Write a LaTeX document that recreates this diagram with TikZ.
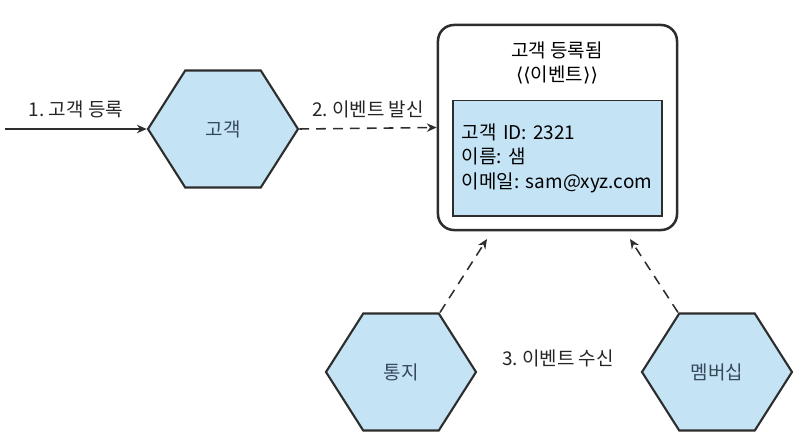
\documentclass[tikz,border=0pt]{standalone}
\usepackage{fontspec}
\setmainfont{Noto Sans CJK KR}
\newfontfamily\symfont{DejaVu Sans}
\usepackage{xcolor}
\usetikzlibrary{positioning,arrows.meta,shapes.symbols,calc}
\definecolor{hexblue}{RGB}{196,228,246}
\definecolor{edgegray}{RGB}{45,45,45}
\definecolor{hextext}{RGB}{55,72,88}
\frenchspacing

\begin{document}
\begin{tikzpicture}[
  x=0.025cm, y=-0.025cm,
  font=\fontsize{13.5}{17.5}\selectfont,
  hexa/.style={signal, signal to=west and east, signal pointer angle=115, draw=edgegray, line width=1.5pt, fill=hexblue, text=hextext, minimum width=3.75cm, minimum height=2.925cm, inner sep=0pt},
  evtbox/.style={draw=edgegray, line width=1.8pt, rounded corners=0.4cm, fill=white, minimum width=5.975cm, minimum height=5.125cm},
  fieldbox/.style={draw=edgegray, line width=1.4pt, fill=hexblue, minimum width=5.225cm, minimum height=2.875cm, align=left, text width=4.78cm, inner sep=0pt},
  lbl/.style={text=black!85, inner sep=1pt},
  arr/.style={-{Stealth[length=7pt,width=6pt]}, line width=1.1pt, edgegray},
  darr/.style={arr, dash pattern=on 7pt off 5pt},
]
\useasboundingbox (0,0) rectangle (806,442);
% publisher
\node[hexa] (cust) at (223,129) {고객};
\coordinate (start) at (5,129);
\draw[arr] (start) -- node[lbl, above=6pt]{1. 고객 등록} (cust.west);
% event
\node[evtbox] (evt) at (557.5,127.5) {};
\node[align=center, font=\fontsize{13.5}{16.5}\selectfont] (ttl) at (557,63) {고객 등록됨\\{\symfont ⟨⟨}이벤트{\symfont ⟩⟩}};
\node[fieldbox] (fld) at (557.5,158) {고객 ID: 2321\\이름: 샘\\이메일: sam@xyz.com};
\draw[darr] (cust.east) -- node[lbl, above=6pt]{2. 이벤트 발신} (evt.west);
% subscribers
\node[hexa] (ntf) at (401,372) {통지};
\node[hexa] (mbr) at (717,372) {멤버십};
\coordinate (rcvl) at (487,239);
\coordinate (rcvr) at (630,239);
\draw[darr] ($(ntf.north)+(39,0)$) -- (rcvl);
\draw[darr] ($(mbr.north)+(-39,0)$) -- (rcvr);
\node[lbl] (rcv) at (558,358) {3. 이벤트 수신};
\end{tikzpicture}
\end{document}
